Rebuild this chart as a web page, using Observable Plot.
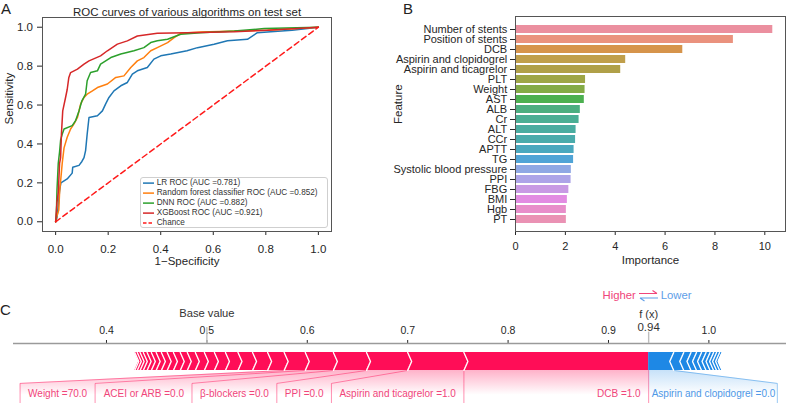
<!DOCTYPE html>
<html><head><meta charset="utf-8">
<script src="https://cdn.jsdelivr.net/npm/d3@7"></script>
<script src="https://cdn.jsdelivr.net/npm/@observablehq/plot@0.6"></script>
<style>
body{margin:0;background:#fff;}
#fig{position:relative;width:786px;height:403px;overflow:hidden;font-family:"Liberation Sans",Arial,Helvetica,sans-serif;color:#262626;}
.letter{position:absolute;font-size:15px;line-height:15px;color:#222;}
#legend{position:absolute;left:140px;top:176.6px;width:188px;height:51.5px;border:1px solid #cfcfcf;border-radius:3px;background:rgba(255,255,255,0.85);box-sizing:border-box;font-size:8.2px;color:#333;}
#legend .row{position:relative;height:10.2px;line-height:10.2px;white-space:nowrap;}
#legend svg{position:absolute;left:1.7px;top:0;}
#legend span{position:absolute;left:15.7px;top:0;}
#hl{position:absolute;left:602.5px;top:289px;font-size:11.3px;line-height:13px;white-space:nowrap;display:flex;align-items:center;}
</style></head><body><div id="fig"></div>
<script>
// ---------- Panel A data: ROC curves ----------
const rocNames = ["LR ROC (AUC =0.781)", "Random forest classifier ROC (AUC =0.852)", "DNN ROC (AUC =0.882)", "XGBoost ROC (AUC =0.921)"];
const rocColors = ["#1f77b4", "#ff7f0e", "#2ca02c", "#d62728"];
const lrFpr = [0,0.005,0.01,0.015,0.02,0.044,0.063,0.065,0.089,0.1,0.108,0.114,0.12,0.127,0.159,0.178,0.19,0.203,0.222,0.248,0.273,0.292,0.311,0.349,0.374,0.4,0.438,0.5,0.54,0.603,0.654,0.73,0.768,0.819,0.9,1];
const lrTpr = [0,0.02,0.08,0.16,0.2,0.22,0.25,0.28,0.29,0.31,0.33,0.366,0.45,0.536,0.545,0.57,0.605,0.639,0.673,0.699,0.716,0.759,0.776,0.793,0.836,0.853,0.862,0.879,0.895,0.913,0.93,0.938,0.972,0.977,0.985,1];
const rfFpr = [0,0.005,0.012,0.015,0.019,0.025,0.032,0.044,0.057,0.07,0.083,0.095,0.108,0.12,0.14,0.159,0.197,0.229,0.26,0.286,0.311,0.336,0.362,0.387,0.426,0.451,0.476,0.552,0.806,1];
const rfTpr = [0,0.03,0.06,0.15,0.21,0.3,0.38,0.434,0.477,0.503,0.536,0.605,0.639,0.656,0.673,0.69,0.708,0.742,0.75,0.793,0.827,0.844,0.879,0.895,0.921,0.947,0.969,0.976,0.985,1];
const dnnFpr = [0,0.003,0.005,0.01,0.015,0.019,0.025,0.032,0.063,0.076,0.089,0.1,0.114,0.12,0.133,0.159,0.171,0.21,0.248,0.298,0.336,0.362,0.387,0.426,0.476,0.552,0.68,0.794,1];
const dnnTpr = [0,0.05,0.16,0.3,0.36,0.42,0.45,0.477,0.494,0.52,0.57,0.622,0.656,0.725,0.767,0.776,0.81,0.844,0.862,0.879,0.895,0.921,0.93,0.938,0.964,0.972,0.981,0.993,1];
const xgbFpr = [0,0.005,0.01,0.015,0.019,0.022,0.027,0.038,0.044,0.05,0.057,0.083,0.108,0.127,0.171,0.197,0.235,0.273,0.311,0.387,0.5,0.68,0.806,1];
const xgbTpr = [0,0.1,0.15,0.3,0.33,0.45,0.57,0.64,0.68,0.74,0.767,0.785,0.81,0.827,0.853,0.879,0.913,0.93,0.955,0.969,0.972,0.977,0.985,1];
const chanceFpr = [0, 1];
const chanceTpr = [0, 1];
const rocTicks = [0, 0.2, 0.4, 0.6, 0.8, 1.0];

// ---------- Panel B data: feature importance ----------
const features = ["Number of stents","Position of stents","DCB","Aspirin and clopidogrel","Aspirin and ticagrelor","PLT","Weight","AST","ALB","Cr","ALT","CCr","APTT","TG","Systolic blood pressure","PPI","FBG","BMI","Hgb","PT"];
const importance = [10.32,8.74,6.71,4.42,4.22,2.81,2.79,2.76,2.60,2.55,2.43,2.41,2.35,2.33,2.24,2.23,2.14,2.08,2.04,2.04];
const barColors = ["#eb8f9f","#ea927e","#d6944b","#c09f4b","#b0a048","#9ea646","#84ab46","#4cb050","#4cae80","#4bae94","#4aaca0","#4aabab","#4aa8be","#50a4d6","#8fa8e4","#ada4e8","#c89ae4","#e28ce2","#e88eca","#ea92b4"];
const importanceTicks = [0, 2, 4, 6, 8, 10];

// ---------- Panel C data: SHAP force plot ----------
const posLabels = ["DCB","Aspirin and ticagrelor","PPI","β-blockers","ACEI or ARB","Weight"];
const posValues = ["1.0","1.0","0.0","0.0","0.0","70.0"];
const posShap = [0.184,0.056,0.041,0.033,0.028,0.021];
const posTailShap = [0.0165,0.015,0.0145,0.0125,0.011,0.010,0.009,0.008,0.007,0.0068,0.0062,0.0058,0.0052,0.0048,0.0042,0.0038,0.0032,0.0028,0.0025];
const negLabels = ["Aspirin and clopidogrel"];
const negValues = ["0.0"];
const negShap = [0.025];
const negTailShap = [0.010,0.0072,0.0055,0.005,0.0045,0.004,0.0035,0.003,0.003,0.0025];
const baseValue = 0.5;
const outValue = 0.94;
const forceTicks = [0.4,0.5,0.6,0.7,0.8,0.9,1.0];

// ---------- helpers ----------
const fig = document.getElementById("fig");
const FONT = "'Liberation Sans', Arial, Helvetica, sans-serif";
function place(el, left, top) {
  el.style.position = "absolute"; el.style.left = left + "px"; el.style.top = top + "px";
  fig.appendChild(el);
}
const baseStyle = {fontFamily: FONT, fontSize: "11.5px", color: "#262626", background: "none", overflow: "visible"};
const f1 = d3.format(".1f");

// ---------- Panel A ----------
const rocSets = [[lrFpr, lrTpr], [rfFpr, rfTpr], [dnnFpr, dnnTpr], [xgbFpr, xgbTpr]];
const rocRows = rocSets.flatMap(([fp, tp], k) => fp.map((f, i) => ({model: rocNames[k], fpr: f, tpr: tp[i]})));
const chanceRows = chanceFpr.map((f, i) => ({fpr: f, tpr: chanceTpr[i]}));
const plotA = Plot.plot({
  width: 340, height: 280, marginLeft: 42, marginRight: 9, marginTop: 17, marginBottom: 49,
  style: baseStyle,
  x: {domain: [-0.05, 1.05], ticks: rocTicks, tickFormat: f1, tickSize: 4, tickPadding: 9.5, label: null},
  y: {domain: [-0.05, 1.05], ticks: rocTicks, tickFormat: f1, tickSize: 5, tickPadding: 4.5, label: null},
  color: {domain: rocNames, range: rocColors},
  marks: [
    Plot.line(rocRows, {x: "fpr", y: "tpr", z: "model", stroke: "model", strokeWidth: 1.5}),
    Plot.line(chanceRows, {x: "fpr", y: "tpr", stroke: "#ff1a1a", strokeWidth: 1.5, strokeDasharray: "5.5,3.5"}),
    Plot.frame({stroke: "#555", strokeWidth: 1}),
    Plot.text(["ROC curves of various algorithms on test set"], {frameAnchor: "top", dy: -10, text: d => d, fontSize: 11.5, fill: "#262626"}),
    Plot.text(["1\u2212Specificity"], {frameAnchor: "bottom", dy: 33.5, text: d => d, fontSize: 11.5, fill: "#262626"}),
    Plot.text(["Sensitivity"], {frameAnchor: "left", dx: -33, rotate: -90, text: d => d, fontSize: 11.5, fill: "#262626"})
  ]
});
place(plotA, 0, 0);

// Legend for A
const legend = document.createElement("div");
legend.id = "legend";
const legendItems = rocNames.map((n, i) => ({name: n, color: rocColors[i], dash: null})).concat([{name: "Chance", color: "#ff1a1a", dash: "3.5,2"}]);
legend.innerHTML = legendItems.map(it =>
  `<div class="row"><svg width="11" height="10.2"><line x1="0" x2="11" y1="5.1" y2="5.1" stroke="${it.color}" stroke-width="1.5" ${it.dash ? `stroke-dasharray="${it.dash}"` : ""}/></svg><span>${it.name}</span></div>`
).join("");
fig.appendChild(legend);

// ---------- Panel B ----------
const impRows = features.map((f, i) => ({feature: f, importance: importance[i]}));
const plotB = Plot.plot({
  width: 396, height: 280, marginLeft: 125, marginRight: 1, marginTop: 16, marginBottom: 49,
  style: {...baseStyle, fontSize: "11px"},
  x: {domain: [0, 10.83], ticks: importanceTicks, tickSize: 4, tickPadding: 6.7, label: null},
  y: {domain: features, paddingInner: 0.2, paddingOuter: 0.1, tickSize: 5, tickPadding: 3.3, label: null},
  color: {domain: features, range: barColors},
  marks: [
    Plot.barX(impRows, {x: "importance", y: "feature", fill: "feature"}),
    Plot.frame({stroke: "#555", strokeWidth: 1}),
    Plot.text(["Importance"], {frameAnchor: "bottom", dy: 32.5, text: d => d, fontSize: 11.5, fill: "#262626"}),
    Plot.text(["Feature"], {frameAnchor: "left", dx: -117, rotate: -90, text: d => d, fontSize: 11.5, fill: "#262626"})
  ]
});
place(plotB, 390, 0);

// ---------- Panel C ----------
const C_W = 786, C_H = 113, C_ML = 13, C_MT = 53;
const xDom = [0.3074, 1.0773];
const ppu = (C_W - C_ML) / (xDom[1] - xDom[0]);   // pixels per SHAP unit
const tip = 4 / ppu;
const LABEL_TOP = -0.722, LABEL_TEXT = -1.278, BOTTOM = -1.84;
const PINK = "#ff0d57", BLUE = "#1e88e5";

let cur = outValue;
const posSegs = posShap.concat(posTailShap).map((v, i) => { const e = cur, s = cur - v; cur = s; return {s, e, i}; });
cur = outValue;
const negSegs = negShap.concat(negTailShap).map((v, i) => { const s = cur, e = cur + v; cur = e; return {s, e, i}; });

const posPolys = posSegs.flatMap(({s, e, i}) => {
  const tr = i === 0 ? 0 : tip;
  return [{z: i, y: 0, x1: s, x2: e}, {z: i, y: 0.5, x1: s + tip, x2: e + tr}, {z: i, y: 1, x1: s, x2: e}];
});
const negPolys = negSegs.flatMap(({s, e, i}) => {
  const tl = i === 0 ? 0 : tip;
  return [{z: i, y: 0, x1: s, x2: e}, {z: i, y: 0.5, x1: s - tl, x2: e - tip}, {z: i, y: 1, x1: s, x2: e}];
});
const posSeps = posSegs.flatMap(({s, i}) => [{z: i, x: s, y: 0}, {z: i, x: s + tip, y: 0.5}, {z: i, x: s, y: 1}]);
const negSeps = negSegs.flatMap(({e, i}) => [{z: i, x: e, y: 0}, {z: i, x: e - tip, y: 0.5}, {z: i, x: e, y: 1}]);

// label boxes (laid out like shap: right-aligned text, contiguous boxes)
const ctx = document.createElement("canvas").getContext("2d");
ctx.font = "10px " + FONT;
const pad = 8 / ppu;
let R = outValue;
const posBoxes = posLabels.map((name, i) => {
  const text = `${name} =${posValues[i]}`;
  const w = ctx.measureText(text).width / ppu;
  const seg = posSegs[i];
  const textRight = R - pad;
  let L = textRight - w - pad;
  if (L > seg.s) L = seg.s;
  const b = {text, s: seg.s, e: seg.e, L, R, tx: textRight, i};
  R = L;
  return b;
});
const negBoxes = negLabels.map((name, i) => {
  const text = `${name} =${negValues[i]}`;
  const w = ctx.measureText(text).width / ppu;
  const seg = negSegs[i];
  const L = outValue;
  const tx = L + 3 / ppu;
  let Rr = tx + w + 2 / ppu;
  if (Rr < seg.e) Rr = seg.e;
  return {text, s: seg.s, e: seg.e, L, R: Rr, tx, i};
});
const posAreas = posBoxes.flatMap(b => [{z: b.i, y: 0, x1: b.s, x2: b.e}, {z: b.i, y: LABEL_TOP, x1: b.L, x2: b.R}, {z: b.i, y: BOTTOM, x1: b.L, x2: b.R}]);
const negAreas = negBoxes.flatMap(b => [{z: b.i, y: 0, x1: b.s, x2: b.e}, {z: b.i, y: LABEL_TOP, x1: b.L, x2: b.R}, {z: b.i, y: BOTTOM, x1: b.L, x2: b.R}]);
const posConn = posBoxes.flatMap(b => [{z: b.i, x: b.s, y: 0}, {z: b.i, x: b.L, y: LABEL_TOP}, {z: b.i, x: b.L, y: BOTTOM}])
  .concat([{z: "fx", x: outValue, y: 0}, {z: "fx", x: outValue, y: BOTTOM}]);
const negConn = negBoxes.flatMap(b => [{z: b.i, x: b.e, y: 0}, {z: b.i, x: b.R, y: LABEL_TOP}, {z: b.i, x: b.R, y: BOTTOM}]);

const plotC = Plot.plot({
  width: C_W, height: C_H, marginLeft: C_ML, marginRight: 0, marginTop: C_MT, marginBottom: 0,
  style: {...baseStyle, fontSize: "10.5px"},
  x: {domain: xDom, axis: "top", ticks: forceTicks, tickFormat: f1, tickSize: 4, tickPadding: 5.7, label: null},
  y: {domain: [BOTTOM, 1.5], axis: null},
  marks: [
    Plot.areaX(posAreas, {y: "y", x1: "x1", x2: "x2", z: "z", fill: "url(#gradPink)"}),
    Plot.areaX(negAreas, {y: "y", x1: "x1", x2: "x2", z: "z", fill: "url(#gradBlue)"}),
    Plot.line(posConn, {x: "x", y: "y", z: "z", stroke: PINK, strokeOpacity: 0.45, strokeWidth: 1}),
    Plot.line(negConn, {x: "x", y: "y", z: "z", stroke: BLUE, strokeOpacity: 0.45, strokeWidth: 1}),
    Plot.areaX(posPolys, {y: "y", x1: "x1", x2: "x2", z: "z", fill: PINK}),
    Plot.areaX(negPolys, {y: "y", x1: "x1", x2: "x2", z: "z", fill: BLUE}),
    Plot.line(posSeps, {x: "x", y: "y", z: "z", stroke: "#fff", strokeWidth: 1.3}),
    Plot.line(negSeps, {x: "x", y: "y", z: "z", stroke: "#fff", strokeWidth: 1.3}),
    Plot.ruleY([1.5], {stroke: "#9a9a9a", strokeWidth: 1.6}),
    Plot.ruleX([baseValue], {y1: () => 1.5, y2: () => 2.39, stroke: "#bdbdbd", strokeWidth: 1.4}),
    Plot.ruleX([outValue], {y1: () => 1.5, y2: () => 2.13, stroke: "#bdbdbd", strokeWidth: 1.4}),
    Plot.text([baseValue], {x: d => d, y: () => 3.17, text: () => "Base value", fontSize: 11.2, fill: "#333"}),
    Plot.text([outValue], {x: d => d, y: () => 3.11, text: () => "f (x)", fontSize: 11, fill: "#333"}),
    Plot.text([outValue], {x: d => d, y: () => 2.39, text: d => d3.format(".2f")(d), fontSize: 11.5, fill: "#333"}),
    Plot.text(posBoxes, {x: "tx", y: () => LABEL_TEXT, text: "text", textAnchor: "end", fontSize: 10, fill: "#f0457a"}),
    Plot.text(negBoxes, {x: "tx", y: () => LABEL_TEXT, text: "text", textAnchor: "start", fontSize: 10, fill: "#4f98e6"})
  ]
});
const defs = document.createElementNS("http://www.w3.org/2000/svg", "defs");
defs.innerHTML = `<linearGradient id="gradPink" x1="0" y1="0" x2="0" y2="1"><stop offset="0" stop-color="${PINK}" stop-opacity="0.32"/><stop offset="0.75" stop-color="${PINK}" stop-opacity="0"/></linearGradient>
<linearGradient id="gradBlue" x1="0" y1="0" x2="0" y2="1"><stop offset="0" stop-color="${BLUE}" stop-opacity="0.25"/><stop offset="0.75" stop-color="${BLUE}" stop-opacity="0"/></linearGradient>`;
plotC.insertBefore(defs, plotC.firstChild);
place(plotC, 0, 290);

// Higher / Lower legend
const hl = document.createElement("div");
hl.id = "hl";
hl.innerHTML = `<span style="color:#f0457a">Higher</span><svg width="22" height="13" style="margin:0 1px 0 2px"><path d="M1 4.5 H19 M19 4.5 L14.5 1.5" stroke="#f0457a" stroke-width="1.1" fill="none"/><path d="M2 9 H20 M2 9 L6.5 12" stroke="#5e9ee8" stroke-width="1.1" fill="none"/></svg><span style="color:#5e9ee8">Lower</span>`;
fig.appendChild(hl);

// Panel letters
[["A", 1, 1], ["B", 403, 1], ["C", 0, 302]].forEach(([t, l, tp]) => {
  const d = document.createElement("div"); d.className = "letter"; d.textContent = t;
  d.style.left = l + "px"; d.style.top = tp + "px"; fig.appendChild(d);
});
</script></body></html>
